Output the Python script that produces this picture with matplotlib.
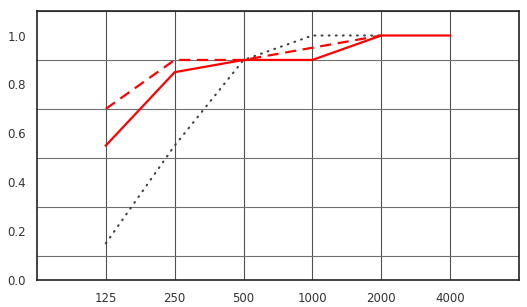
import matplotlib
matplotlib.use('Agg')
import matplotlib.pyplot as plt

freqs = ['125', '250', '500', '1000', '2000', '4000']
solid = [0.55, 0.85, 0.90, 0.90, 1.00, 1.00]
dashed = [0.70, 0.90, 0.90, 0.95, 1.00]
dotted = [0.15, 0.55, 0.90, 1.00, 1.00]

fig = plt.figure(figsize=(5.27, 3.07), dpi=100)
ax = fig.add_axes([0.0702, 0.088, 0.9146, 0.876])

x = list(range(1, len(freqs) + 1))
ax.plot(x[:len(dotted)], dotted, color='#404040', lw=1.5, linestyle=(0, (0.4, 3.0)),
        dash_capstyle='round', zorder=3)
ax.plot(x[:len(dashed)], dashed, color='#ff0000', lw=1.6, linestyle=(0, (5, 3)), zorder=4)
ax.plot(x, solid, color='#ff0000', lw=1.6, zorder=5)

ax.set_xlim(0, 7)
ax.set_ylim(0, 1.1)
ax.set_xticks(x)
ax.set_xticklabels(freqs)
ax.set_xticks(range(0, 8), minor=True)
ax.set_yticks([0.0, 0.2, 0.4, 0.6, 0.8, 1.0])
ax.set_yticklabels(['0.0', '0.2', '0.4', '0.6', '0.8', '1.0'])
ax.set_yticks([i / 10 for i in range(12)], minor=True)
ax.grid(which='minor', axis='y', color='#707070', lw=0.8)
ax.grid(which='major', axis='x', color='#505050', lw=0.8)
ax.tick_params(which='both', length=0, labelsize=8.5, labelcolor='#333333')
ax.tick_params(axis='y', pad=8)
ax.tick_params(axis='x', pad=9)
for s in ax.spines.values():
    s.set_linewidth(1.2)
    s.set_color('#222222')

fig.savefig('out.png', dpi=100)
